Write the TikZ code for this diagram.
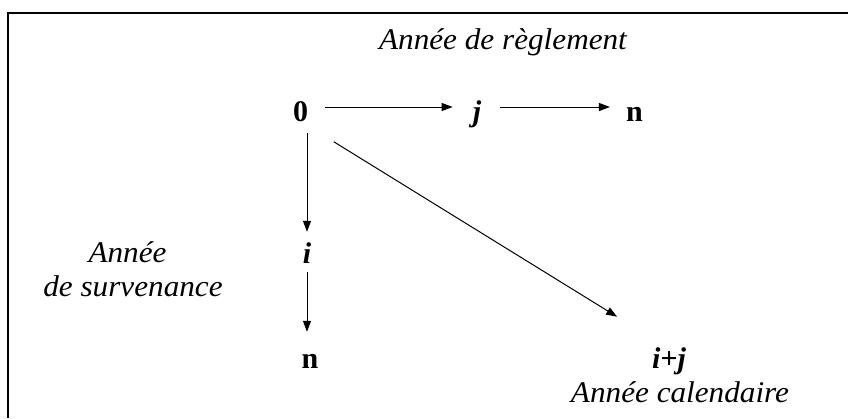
\documentclass[tikz,border=0pt]{standalone}
\usepackage{fontspec}
\setmainfont{Liberation Serif}
\newfontfamily\labfont[FakeStretch=1.04]{Liberation Serif}
\usetikzlibrary{arrows.meta}
\tikzset{
  lab/.style={inner sep=0pt, anchor=base, font=\fontsize{30}{34}\selectfont\labfont\itshape},
  pt/.style={inner sep=0pt, anchor=base, text height=19pt, text depth=0pt, font=\fontsize{30}{32}\selectfont\bfseries},
  arr/.style={line width=1pt, -{Triangle[length=11pt,width=8pt]}},
  frame/.style={line width=1.6pt}
}
\begin{document}
\begin{tikzpicture}[x=1pt,y=-1pt]
\useasboundingbox (0,0) rectangle (848,418);
\coordinate (tl) at (8,13);
\coordinate (tr) at (848,13);
\coordinate (bl) at (8,418);
\draw[frame] (bl) -- (tl) -- (tr);

\node[lab] (t1) at (503,49) {Année de règlement};
\node[pt] (z) at (300.5,121) {0};
\node[pt] (j) at (477,121) {\itshape j};
\node[pt] (n1) at (634.5,121) {n};
\node[pt] (i) at (307,263) {\itshape i};
\node[pt] (n2) at (310,368) {n};
\node[pt] (ij) at (669,368) {\itshape i+j};
\node[lab] (s1) at (127.5,262) {Année};
\node[lab] (s2) at (133,296) {de survenance};
\node[lab] (c1) at (680,402) {Année calendaire};

\draw[arr, shorten <=17pt, shorten >=20pt] ([yshift=4.5pt]z.east) -- ([yshift=4.5pt]j.west);
\draw[arr, shorten <=19pt, shorten >=16pt] ([yshift=4.5pt]j.east) -- ([yshift=4.5pt]n1.west);
\draw[arr, shorten <=12pt, shorten >=12pt] (i |- z.south) -- (i.north);
\draw[arr, shorten <=9pt, shorten >=17pt] (i.south) -- (i |- n2.north);
\draw[arr, shorten <=39pt, shorten >=61pt] (z.south) -- (ij.north);
\end{tikzpicture}
\end{document}
